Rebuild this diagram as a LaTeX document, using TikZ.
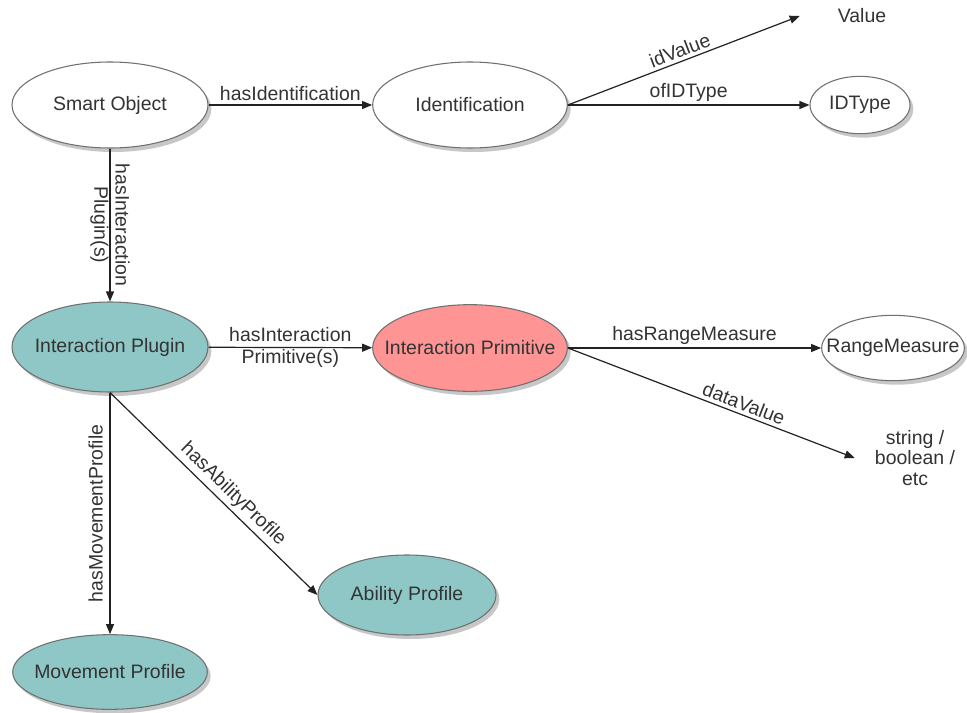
\documentclass[tikz,border=0pt]{standalone}
\usepackage{fontspec}
\setmainfont{Liberation Sans}
\usetikzlibrary{arrows.meta,shapes.geometric,shadows}
\definecolor{tealfill}{HTML}{8FC7C7}
\definecolor{pinkfill}{HTML}{FF9494}
\definecolor{outlinegray}{HTML}{707070}
\definecolor{txtgray}{HTML}{333333}
\definecolor{edgegray}{HTML}{222222}
\begin{document}
\begin{tikzpicture}[x=0.75pt,y=-0.75pt,
  ent/.style={ellipse, draw=outlinegray, line width=0.8pt, fill=white, text=txtgray,
    font=\fontsize{14.6}{17}\selectfont, inner xsep=-15pt, inner ysep=0pt,
    drop shadow={shadow xshift=2.5pt, shadow yshift=-3pt, opacity=0.22, fill=black}},
  plain/.style={text=txtgray, font=\fontsize{14.6}{15.5}\selectfont, inner sep=0pt, align=center},
  edge/.style={draw=edgegray, line width=0.9pt, -{Triangle[length=7.5pt,width=6pt]}},
  lbl/.style={text=txtgray, font=\fontsize{14.6}{16}\selectfont, inner sep=2.5pt, align=center}]
\useasboundingbox[fill=white] (0,0) rectangle (967,713);
% nodes
\node[ent, minimum width=147pt, minimum height=64.5pt] (so) at (110,105) {Smart Object};
\node[ent, minimum width=146pt, minimum height=64.5pt] (ident) at (470,105) {Identification};
\node[ent, minimum width=75pt, minimum height=43pt] (idtype) at (860,105) {IDType};
\node[plain, minimum width=93pt] (value) at (862,16) {Value};
\node[ent, fill=tealfill, minimum width=147pt, minimum height=67.5pt] (plugin) at (110,347) {Interaction Plugin};
\node[ent, fill=pinkfill, minimum width=146pt, minimum height=65pt] (prim) at (470,348) {Interaction Primitive};
\node[ent, minimum width=107pt, minimum height=49pt] (range) at (893,348) {RangeMeasure};
\node[plain, minimum width=90pt] (str) at (915,458) {string /\\boolean /\\etc};
\node[ent, fill=tealfill, minimum width=133.5pt, minimum height=60pt] (ability) at (407,595) {Ability Profile};
\node[ent, fill=tealfill, minimum width=146pt, minimum height=56pt] (movement) at (110,672) {Movement Profile};
% edges
\draw[edge] (so) -- node[lbl, above] {hasIdentification} (ident);
\draw[edge] (ident.east) -- node[lbl, above, sloped] {idValue} (value.west);
\draw[edge] (ident.east) -- node[lbl, above] {ofIDType} (idtype.west);
\draw[edge] (so) -- node[lbl, rotate=-90, inner sep=0pt] {hasInteraction\\Plugin(s)} (plugin);
\draw[edge] (plugin) -- node[lbl, inner sep=0pt] {hasInteraction\\Primitive(s)} (prim);
\draw[edge] (prim) -- node[lbl, above] {hasRangeMeasure} (range);
\draw[edge] (prim.east) -- node[lbl, above, sloped, pos=0.6] {dataValue} (str.west);
\draw[edge] (plugin.south) -- node[lbl, above, sloped, pos=0.55] {hasAbilityProfile} (ability.west);
\draw[edge] (plugin) -- node[lbl, rotate=90, above, inner sep=5pt] {hasMovementProfile} (movement);
\end{tikzpicture}
\end{document}
